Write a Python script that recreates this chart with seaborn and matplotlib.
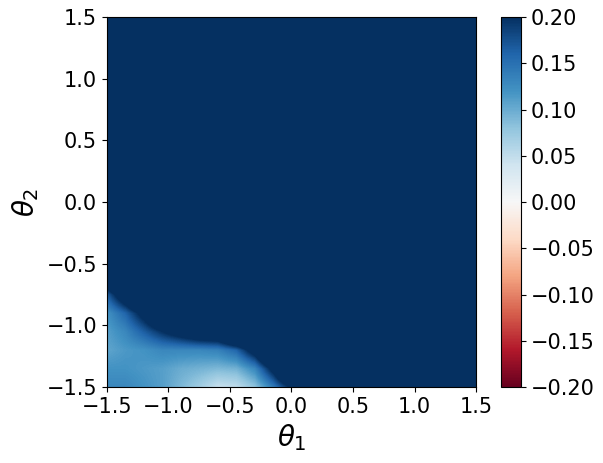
import numpy as np
import matplotlib
matplotlib.use("Agg")
import matplotlib.pyplot as plt
import seaborn as sns

# Values on a 0.15 grid (theta1 across, theta2 up).
# Only the lower-left corner is below the colour limit; the rest sits above 0.2.
theta1_grid = np.round(np.arange(-1.5, 1.5001, 0.15), 2)
theta2_grid = np.round(np.arange(-1.5, 1.5001, 0.15), 2)
fill_value = 0.35

# rows: theta2 = -1.5, -1.35, -1.2, -1.05, -0.9, -0.75, -0.6
# cols: theta1 = -1.5, -1.35, ..., 0.0, 0.15
corner_values = [
    [0.13, 0.13, 0.12, 0.11, 0.09, 0.07, 0.045, 0.05, 0.08, 0.14, 0.21, 0.35],
    [0.12, 0.12, 0.115, 0.11, 0.10, 0.095, 0.09, 0.095, 0.13, 0.22, 0.35, 0.35],
    [0.105, 0.115, 0.12, 0.13, 0.13, 0.13, 0.135, 0.16, 0.23, 0.35, 0.35, 0.35],
    [0.11, 0.13, 0.165, 0.20, 0.23, 0.26, 0.27, 0.35, 0.35, 0.35, 0.35, 0.35],
    [0.12, 0.16, 0.22, 0.30, 0.35, 0.35, 0.35, 0.35, 0.35, 0.35, 0.35, 0.35],
    [0.165, 0.25, 0.35, 0.35, 0.35, 0.35, 0.35, 0.35, 0.35, 0.35, 0.35, 0.35],
    [0.28, 0.35, 0.35, 0.35, 0.35, 0.35, 0.35, 0.35, 0.35, 0.35, 0.35, 0.35],
]
cbar_ticks = [-0.20, -0.15, -0.10, -0.05, 0.00, 0.05, 0.10, 0.15, 0.20]
axis_ticks = [-1.5, -1.0, -0.5, 0.0, 0.5, 1.0, 1.5]

Z = np.full((len(theta2_grid), len(theta1_grid)), fill_value)
corner = np.array(corner_values)
Z[:corner.shape[0], :corner.shape[1]] = corner

sns.set_style("ticks", {"axes.edgecolor": "black", "xtick.color": "black",
                        "ytick.color": "black", "text.color": "black",
                        "axes.labelcolor": "black"})
plt.rcParams['font.family'] = ['DejaVu Sans']

fig = plt.figure(figsize=(6.03, 4.63), dpi=100)
ax = fig.add_axes([0.1774, 0.1641, 0.612, 0.799])
cax = fig.add_axes([0.831, 0.1641, 0.033, 0.799])

step = 0.15
im = ax.imshow(Z, origin="lower", cmap="RdBu", vmin=-0.2, vmax=0.2,
               extent=[theta1_grid[0] - step / 2, theta1_grid[-1] + step / 2,
                       theta2_grid[0] - step / 2, theta2_grid[-1] + step / 2],
               interpolation="bilinear", interpolation_stage="data",
               aspect="auto")
ax.set_xlim(-1.5, 1.5)
ax.set_ylim(-1.5, 1.5)
ax.set_xticks(axis_ticks)
ax.set_yticks(axis_ticks)
ax.tick_params(labelsize=15)
ax.set_xlabel(r"$\theta_1$", fontsize=20)
ax.set_ylabel(r"$\theta_2$", fontsize=20)

cb = fig.colorbar(im, cax=cax, ticks=cbar_ticks)
cb.ax.tick_params(labelsize=15)

plt.savefig("out.png", dpi=100)
plt.close()
